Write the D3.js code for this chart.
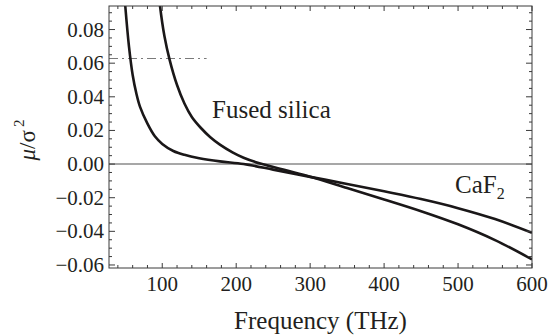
<!DOCTYPE html>
<html>
<head>
<meta charset="utf-8">
<script src="https://cdn.jsdelivr.net/npm/d3@7"></script>
<style>
  body { margin: 0; background: #fff; }
  text { font-family: 'Liberation Serif', 'DejaVu Serif', 'Times New Roman', Times, serif; }
</style>
</head>
<body>
<div id="chart"></div>
<script>
// frequencies in THz, values of mu/sigma^2
const cafFreq = [47, 50, 55, 60, 65, 70, 80, 90, 100, 115, 130, 150, 178, 210, 250, 300, 350, 400, 450, 500, 550, 600]
const cafVals = [0.112, 0.094, 0.070, 0.053, 0.042, 0.034, 0.024, 0.0165, 0.012, 0.0078, 0.0055, 0.0035, 0.0016, 0.0, -0.0033, -0.0076, -0.0118, -0.0162, -0.0208, -0.0262, -0.0327, -0.0409]

const silFreq = [94, 97, 103, 110, 120, 130, 140, 152, 165, 178, 195, 210, 235, 270, 300, 350, 400, 450, 500, 550, 600]
const silVals = [0.108, 0.094, 0.076, 0.062, 0.047, 0.036, 0.028, 0.0216, 0.016, 0.0116, 0.007, 0.0038, 0.0, -0.004, -0.0075, -0.0142, -0.021, -0.028, -0.0358, -0.0452, -0.0567]

const xTicks = [100, 200, 300, 400, 500, 600]
const yTicks = [-0.06, -0.04, -0.02, 0.00, 0.02, 0.04, 0.06, 0.08]
const cutoffLevel = 0.0628
const cutoffSpan = [28, 160]

const W = 550, H = 335
const margin = { left: 109, right: 18, top: 6, bottom: 67 }

const svg = d3.select("#chart").append("svg")
    .attr("width", W)
    .attr("height", H)

const x = d3.scaleLinear().domain([28, 600]).range([margin.left, W - margin.right])
const y = d3.scaleLinear().domain([-0.0618, 0.094]).range([H - margin.bottom, margin.top])

svg.append("clipPath").attr("id", "clip")
    .append("rect")
    .attr("x", margin.left).attr("y", margin.top)
    .attr("width", W - margin.left - margin.right)
    .attr("height", H - margin.top - margin.bottom)

// zero line
svg.append("line")
    .attr("x1", x.range()[0]).attr("x2", x.range()[1])
    .attr("y1", y(0)).attr("y2", y(0))
    .attr("stroke", "#8a8a8a").attr("stroke-width", 1.6)

// dash-dot marker
svg.append("line")
    .attr("x1", x(cutoffSpan[0])).attr("x2", x(cutoffSpan[1]))
    .attr("y1", y(cutoffLevel)).attr("y2", y(cutoffLevel))
    .attr("stroke", "#7a7a7a").attr("stroke-width", 1.1)
    .attr("stroke-dasharray", "9,4,2,4")

const line = d3.line()
    .x(d => x(d[0]))
    .y(d => y(d[1]))
    .curve(d3.curveCatmullRom.alpha(0.5))

const curves = [d3.zip(cafFreq, cafVals), d3.zip(silFreq, silVals)]
svg.append("g").attr("clip-path", "url(#clip)")
    .selectAll("path").data(curves).join("path")
    .attr("d", line)
    .attr("fill", "none")
    .attr("stroke", "#1a1718")
    .attr("stroke-width", 2.6)

// frame with inward ticks on all sides
const frame = "#3a3a3a"
svg.append("rect")
    .attr("x", x.range()[0]).attr("y", y.range()[1])
    .attr("width", x.range()[1] - x.range()[0])
    .attr("height", y.range()[0] - y.range()[1])
    .attr("fill", "none").attr("stroke", frame).attr("stroke-width", 1)

const ticks = svg.append("g").attr("stroke", frame).attr("stroke-width", 1)
const xMinor = d3.range(40, 601, 20)
const yMinor = d3.range(-0.06, 0.0935, 0.005)
xMinor.forEach(v => {
    const len = xTicks.includes(v) ? 5 : 3
    ticks.append("line").attr("x1", x(v)).attr("x2", x(v)).attr("y1", y.range()[0]).attr("y2", y.range()[0] - len)
    ticks.append("line").attr("x1", x(v)).attr("x2", x(v)).attr("y1", y.range()[1]).attr("y2", y.range()[1] + len)
})
yMinor.forEach(v => {
    const major = yTicks.some(t => Math.abs(t - v) < 1e-6)
    const len = major ? 6 : 3
    ticks.append("line").attr("y1", y(v)).attr("y2", y(v)).attr("x1", x.range()[0]).attr("x2", x.range()[0] + len)
    ticks.append("line").attr("y1", y(v)).attr("y2", y(v)).attr("x1", x.range()[1]).attr("x2", x.range()[1] - len)
})

const ink = "#231f20"
const fmt = d3.format(".2f")
svg.append("g").selectAll("text").data(xTicks).join("text")
    .attr("x", d => x(d)).attr("y", 291)
    .attr("text-anchor", "middle")
    .attr("font-size", 21).attr("fill", ink)
    .text(d => d)

svg.append("g").selectAll("text").data(yTicks).join("text")
    .attr("x", 104).attr("y", d => y(d) + 7)
    .attr("text-anchor", "end")
    .attr("font-size", 21).attr("fill", ink)
    .text(d => fmt(d))

svg.append("text")
    .attr("x", (x.range()[0] + x.range()[1]) / 2).attr("y", 329)
    .attr("text-anchor", "middle")
    .attr("font-size", 25).attr("fill", ink)
    .text("Frequency (THz)")

const yl = svg.append("text")
    .attr("transform", "translate(35,140) rotate(-90)")
    .attr("text-anchor", "middle")
    .attr("font-size", 23).attr("fill", ink)
yl.append("tspan").attr("font-style", "italic").text("μ")
yl.append("tspan").text("/σ")
yl.append("tspan").attr("font-size", 15).attr("dy", -11).attr("dx", 3).text("2")

svg.append("text")
    .attr("x", 212).attr("y", 118)
    .attr("font-size", 25).attr("fill", ink)
    .text("Fused silica")

const caf = svg.append("text")
    .attr("x", 455).attr("y", 193)
    .attr("font-size", 25).attr("fill", ink)
caf.append("tspan").text("CaF")
caf.append("tspan").attr("font-size", 16).attr("dy", 6).text("2")
</script>
</body>
</html>
